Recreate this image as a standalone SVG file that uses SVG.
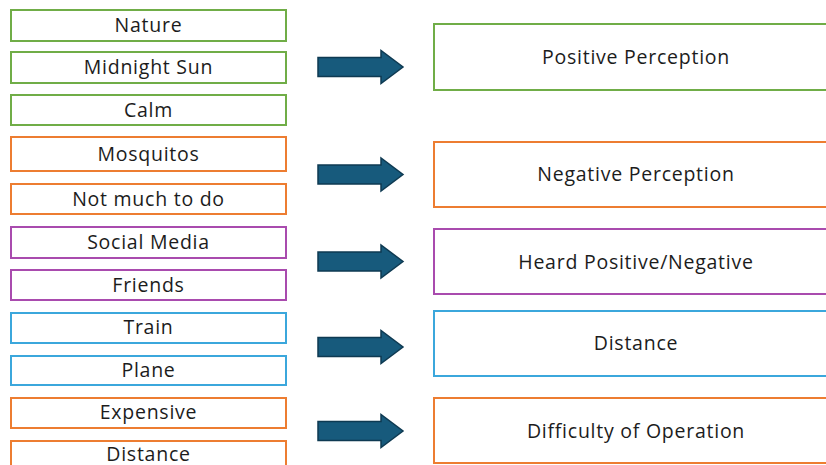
<svg xmlns="http://www.w3.org/2000/svg" width="826" height="465" viewBox="0 0 826 465">
<style>
  .box { fill: #ffffff; stroke-width: 2; }
  .g { stroke: #70AD47; }
  .o { stroke: #ED7D31; }
  .p { stroke: #A94BAE; }
  .b { stroke: #3BA7DC; }
  .t { font-family: "Open Sans", "Liberation Sans", sans-serif; font-size: 19.5px; letter-spacing: 0.75px; font-weight: 500; fill: #1c1c1c; text-anchor: middle; }
  .arrow { fill: #175A7C; stroke: #0E3A52; stroke-width: 1.5; stroke-linejoin: miter; }
</style>
<defs>
  <path id="arr" d="M0,-9.5 H63 V-16.5 L85,0 L63,16.5 V9.5 H0 Z"/>
</defs>
<rect width="826" height="465" fill="#ffffff"/>

<g id="n-nature"><rect class="box g" x="11" y="10" width="275" height="31"/><text class="t" x="148.5" y="32">Nature</text></g>
<g id="n-midnight"><rect class="box g" x="11" y="52" width="275" height="31"/><text class="t" x="148.5" y="74">Midnight Sun</text></g>
<g id="n-calm"><rect class="box g" x="11" y="95" width="275" height="30"/><text class="t" x="148.5" y="117">Calm</text></g>
<g id="n-mosquitos"><rect class="box o" x="11" y="137" width="275" height="34"/><text class="t" x="148.5" y="161">Mosquitos</text></g>
<g id="n-notmuch"><rect class="box o" x="11" y="184" width="275" height="30"/><text class="t" x="148.5" y="206">Not much to do</text></g>
<g id="n-social"><rect class="box p" x="11" y="227" width="275" height="31"/><text class="t" x="148.5" y="249">Social Media</text></g>
<g id="n-friends"><rect class="box p" x="11" y="270" width="275" height="30"/><text class="t" x="148.5" y="292">Friends</text></g>
<g id="n-train"><rect class="box b" x="11" y="313" width="275" height="30"/><text class="t" x="148.5" y="334">Train</text></g>
<g id="n-plane"><rect class="box b" x="11" y="356" width="275" height="29"/><text class="t" x="148.5" y="377">Plane</text></g>
<g id="n-expensive"><rect class="box o" x="11" y="398" width="275" height="30"/><text class="t" x="148.5" y="419">Expensive</text></g>
<g id="n-distance-l"><rect class="box o" x="11" y="441" width="275" height="34"/><text class="t" x="148.5" y="461">Distance</text></g>

<g id="n-positive"><rect class="box g" x="434" y="24" width="404" height="66"/><text class="t" x="636" y="64">Positive Perception</text></g>
<g id="n-negative"><rect class="box o" x="434" y="142" width="404" height="65"/><text class="t" x="636" y="181">Negative Perception</text></g>
<g id="n-heard"><rect class="box p" x="434" y="229" width="404" height="65"/><text class="t" x="636" y="269">Heard Positive/Negative</text></g>
<g id="n-distance-r"><rect class="box b" x="434" y="311" width="404" height="65"/><text class="t" x="636" y="350">Distance</text></g>
<g id="n-difficulty"><rect class="box o" x="434" y="398" width="404" height="65"/><text class="t" x="636" y="438">Difficulty of Operation</text></g>

<g id="connectors">
  <use href="#arr" class="arrow" transform="translate(318,67)"/>
  <use href="#arr" class="arrow" transform="translate(318,174.5)"/>
  <use href="#arr" class="arrow" transform="translate(318,261.5)"/>
  <use href="#arr" class="arrow" transform="translate(318,347)"/>
  <use href="#arr" class="arrow" transform="translate(318,431)"/>
</g>
</svg>
